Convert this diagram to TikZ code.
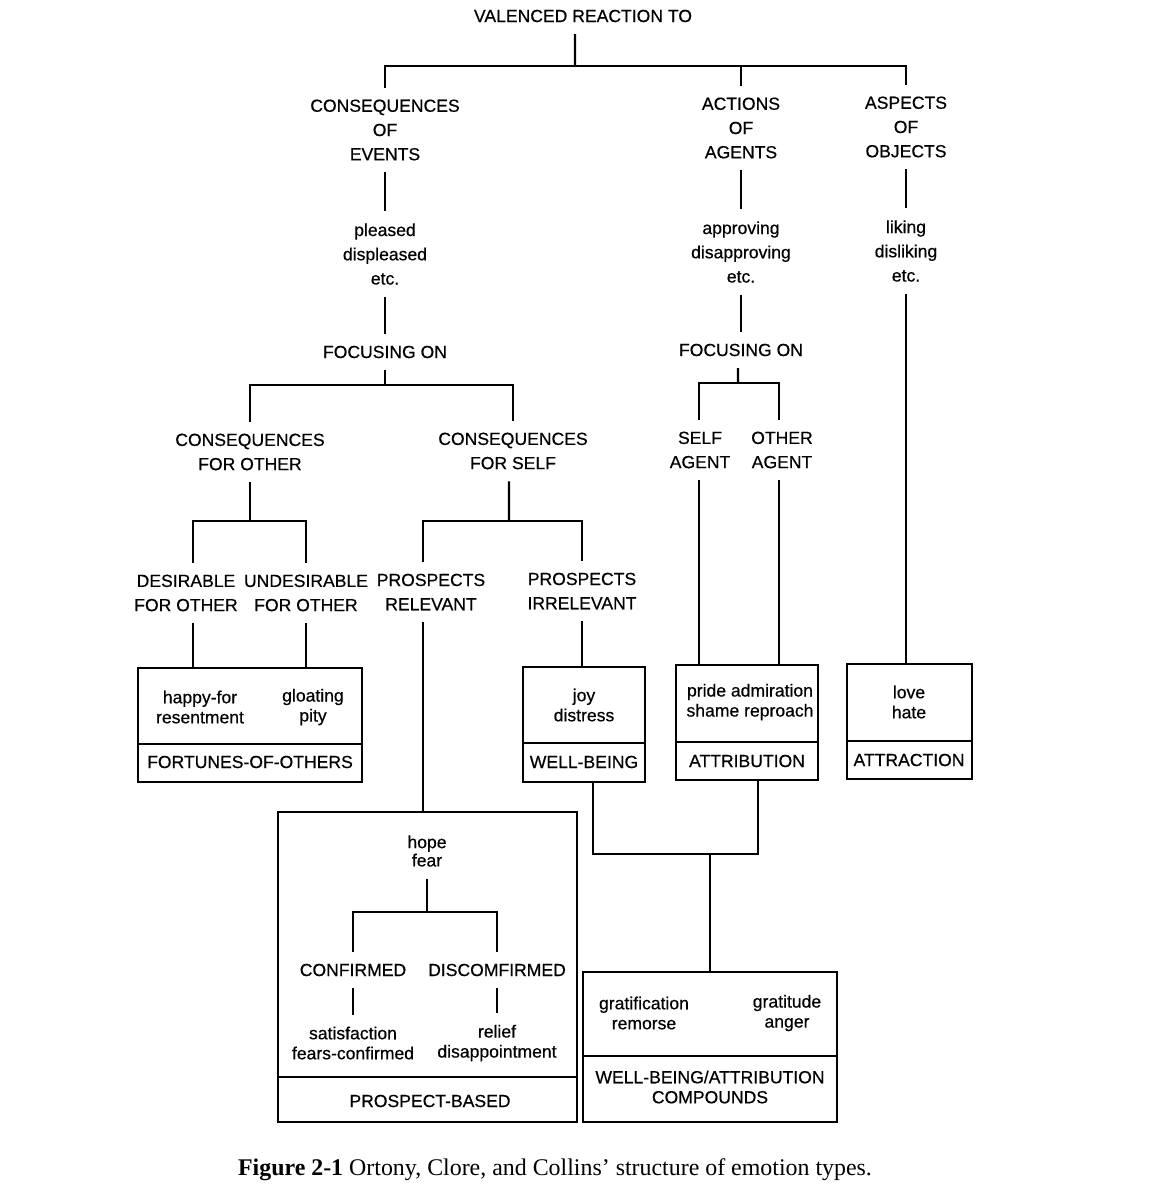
\documentclass[tikz,border=0pt]{standalone}
\usepackage{fontspec}
\setmainfont{Liberation Sans}[FakeBold=0.5]
\newfontfamily\capfont{Liberation Serif}
\usepackage{tikz}

\tikzset{
  heading/.style={align=center, inner sep=0pt, outer sep=0.24cm, font=\fontsize{10}{13.8}\selectfont},
  emotions/.style={align=center, inner sep=0pt, font=\fontsize{10}{11.4}\selectfont},
  group/.style={draw, line width=1.4pt, inner sep=0pt, outer sep=0pt}
}

\begin{document}
\begin{tikzpicture}[x=0.02cm, y=-0.02cm, line width=1.4pt]
    \useasboundingbox (0,0) rectangle (1155,1200);

    % Top level
    \node[heading] (vrt) at (583,16) {VALENCED REACTION TO};
    \node[heading] (coe) at (385,130) {CONSEQUENCES\\OF\\EVENTS};
    \node[heading] (aoa) at (741,128) {ACTIONS\\OF\\AGENTS};
    \node[heading] (aoo) at (906,127) {ASPECTS\\OF\\OBJECTS};

    \coordinate (fork0) at (575,66);
    \draw ([xshift=-0.16cm]vrt.south) -- (fork0);
    \draw (coe.north) |- (fork0) -| (aoo.north);
    \draw (aoa.north) -- (aoa.north |- fork0);

    % Valenced reactions
    \node[heading] (pleased) at (385,254) {pleased\\displeased\\etc.};
    \node[heading] (approving) at (741,252) {approving\\disapproving\\etc.};
    \node[heading] (liking) at (906,251) {liking\\disliking\\etc.};
    \draw (coe) -- (pleased);
    \draw (aoa) -- (approving);
    \draw (aoo) -- (liking);

    % Focusing on
    \node[heading] (focev) at (385,352) {FOCUSING ON};
    \node[heading] (focag) at (741,350) {FOCUSING ON};
    \draw (pleased) -- (focev);
    \draw (approving) -- (focag);

    % Consequences and agents
    \node[heading] (cfo) at (250,452) {CONSEQUENCES\\FOR OTHER};
    \node[heading] (cfs) at (513,451) {CONSEQUENCES\\FOR SELF};
    \node[heading] (self) at (700,450) {SELF\\AGENT};
    \node[heading] (other) at (782,450) {OTHER\\AGENT};

    \coordinate (fork1) at (385,385);
    \draw (focev.south) -- (fork1);
    \draw (cfo.north) |- (fork1) -| (cfs.north);
    \coordinate (fork2) at (738,383);
    \draw ([xshift=-0.06cm]focag.south) -- (fork2);
    \draw ([xshift=-0.02cm]self.north) |- (fork2) -| ([xshift=-0.06cm]other.north);

    % Desirability and prospects
    \node[heading] (desf) at (186,593) {DESIRABLE\\FOR OTHER};
    \node[heading] (undes) at (306,593) {UNDESIRABLE\\FOR OTHER};
    \node[heading] (prel) at (431,592) {PROSPECTS\\RELEVANT};
    \node[heading] (pirr) at (582,591) {PROSPECTS\\IRRELEVANT};

    \coordinate (fork3) at (250,521);
    \draw (cfo.south) -- (fork3);
    \draw ([xshift=0.14cm]desf.north) |- (fork3) -| (undes.north);
    \coordinate (fork4) at (509,521);
    \draw ([xshift=-0.08cm]cfs.south) -- (fork4);
    \draw ([xshift=-0.16cm]prel.north) |- (fork4) -| (pirr.north);

    % Emotion groups
    \node[group, minimum width=4.48cm, minimum height=2.28cm] (fortunes) at (250,725) {};
    \draw (fortunes.west |- 0,744) -- (fortunes.east |- 0,744);
    \node[emotions] (happy) at (200,707) {happy-for\\resentment};
    \node[emotions] (gloating) at (313,707) {gloating\\pity};
    \node[emotions] (fortuneslbl) at (250,762) {FORTUNES-OF-OTHERS};

    \node[group, minimum width=2.44cm, minimum height=2.3cm] (wellbeing) at (584,724.5) {};
    \draw (wellbeing.west |- 0,743) -- (wellbeing.east |- 0,743);
    \node[emotions] (joy) at (584,705) {joy\\distress};
    \node[emotions] (wellbeinglbl) at (584,762) {WELL-BEING};

    \node[group, minimum width=2.84cm, minimum height=2.3cm] (attribution) at (747,722.5) {};
    \draw (attribution.west |- 0,742) -- (attribution.east |- 0,742);
    \node[emotions] (pride) at (750,702) {pride admiration\\shame reproach};
    \node[emotions] (attributionlbl) at (747,761) {ATTRIBUTION};

    \node[group, minimum width=2.5cm, minimum height=2.3cm] (attraction) at (909.5,721.5) {};
    \draw (attraction.west |- 0,741) -- (attraction.east |- 0,741);
    \node[emotions] (love) at (909,702) {love\\hate};
    \node[emotions] (attractionlbl) at (909,760) {ATTRACTION};

    \draw ([xshift=0.14cm]desf.south) -- ([xshift=0.14cm]desf.south |- fortunes.north);
    \draw (undes.south) -- (undes.south |- fortunes.north);
    \draw (pirr.south) -- (pirr.south |- wellbeing.north);
    \draw ([xshift=-0.02cm]self.south) -- ([xshift=-0.02cm]self.south |- attribution.north);
    \draw ([xshift=-0.06cm]other.south) -- ([xshift=-0.06cm]other.south |- attribution.north);
    \draw (liking.south) -- (liking.south |- attraction.north);

    % Prospect-based
    \node[group, minimum width=5.98cm, minimum height=6.2cm] (prospect) at (427.5,967) {};
    \draw (prospect.west |- 0,1077) -- (prospect.east |- 0,1077);
    \draw ([xshift=-0.16cm]prel.south) -- ([xshift=-0.16cm]prel.south |- prospect.north);
    \node[emotions, outer sep=0.24cm, font=\fontsize{10}{10.4}\selectfont] (hope) at (427,851) {hope\\fear};
    \node[heading] (confirmed) at (353,970) {CONFIRMED};
    \node[heading] (disconfirmed) at (497,970) {DISCOMFIRMED};
    \coordinate (fork5) at (427,912);
    \draw (hope.south) -- (fork5);
    \draw (confirmed.north) |- (fork5) -| (disconfirmed.north);
    \node[emotions, outer sep=0.24cm] (satisfaction) at (353,1043) {satisfaction\\fears-confirmed};
    \node[emotions, outer sep=0.24cm] (relief) at (497,1043) {relief\\disappointment};
    \draw (confirmed) -- (satisfaction);
    \draw (disconfirmed) -- (relief);
    \node[emotions] (prospectlbl) at (430,1101) {PROSPECT-BASED};

    % Compounds
    \node[group, minimum width=5.08cm, minimum height=3cm] (compounds) at (710,1047) {};
    \draw (compounds.west |- 0,1056) -- (compounds.east |- 0,1056);
    \node[emotions] (gratification) at (644,1013) {gratification\\remorse};
    \node[emotions] (gratitude) at (787,1013) {gratitude\\anger};
    \node[emotions] (compoundslbl) at (710,1087) {WELL-BEING/ATTRIBUTION\\COMPOUNDS};

    \coordinate (fork6) at (710,854);
    \draw ([xshift=0.18cm]wellbeing.south) |- (fork6) -| ([xshift=0.22cm]attribution.south);
    \draw (fork6) -- (compounds.north);

    % Caption
    \node[font=\capfont\fontsize{13.6}{16}\selectfont, inner sep=0pt] (caption) at (555,1170)
        {\textbf{Figure 2-1} Ortony, Clore, and Collins’ structure of emotion types.};
\end{tikzpicture}
\end{document}
